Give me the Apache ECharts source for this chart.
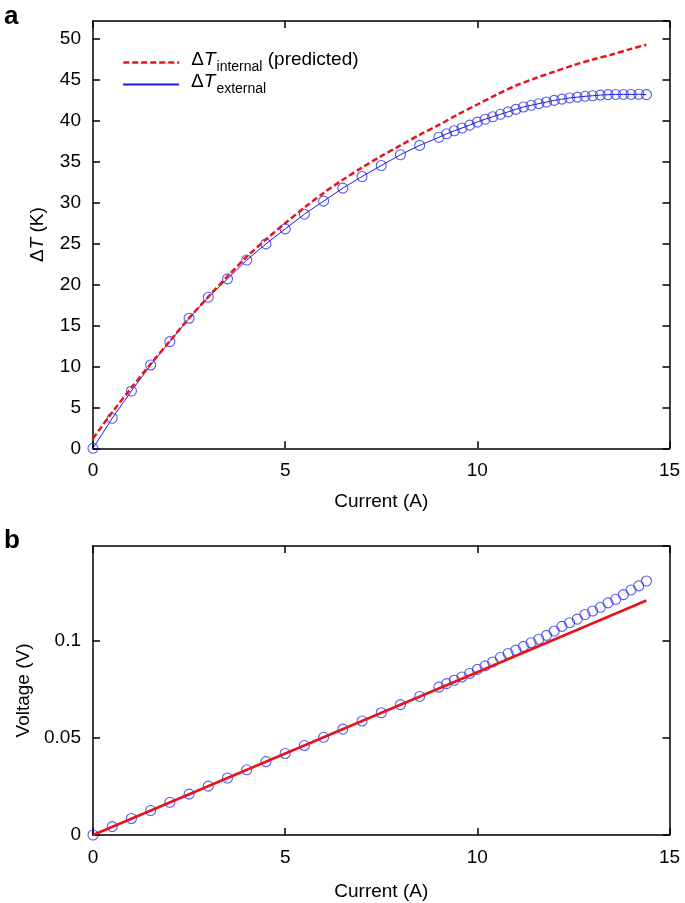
<!DOCTYPE html>
<html>
<head>
<meta charset="utf-8">
<script src="https://cdn.jsdelivr.net/npm/echarts@6/dist/echarts.min.js"></script>
<style>
html,body{margin:0;padding:0;background:#fff;}
#chart{width:685px;height:903px;}
</style>
</head>
<body>
<div id="chart"></div>
<script>
// ---- Data ----
const xTicks = [0, 5, 10, 15];
// Measured currents (A)
const current = [0,0.5,1,1.5,2,2.5,3,3.5,4,4.5,5,5.5,6,6.5,7,7.5,8,8.5,
  9,9.2,9.4,9.6,9.8,10,10.2,10.4,10.6,10.8,11,11.2,11.4,11.6,11.8,12,12.2,12.4,12.6,12.8,13,13.2,13.4,13.6,13.8,14,14.2,14.4];
// ΔT_external (K)
const dTexternal = [0,3.67,7.0,10.18,13.03,15.89,18.46,20.7,23.0,24.97,26.8,28.6,30.2,31.78,33.2,34.55,35.86,37.0,
  38.0,38.42,38.79,39.12,39.48,39.85,40.2,40.5,40.8,41.1,41.4,41.7,41.9,42.1,42.3,42.5,42.65,42.8,42.9,43.0,43.07,43.15,43.2,43.23,43.23,43.23,43.25,43.2];
// ΔT_internal predicted (K)
const currentPred = [0,0.5,1,1.5,2,2.5,3,3.5,4,4.5,5,5.5,6,6.5,7,7.5,8,8.5,9,9.5,10,10.5,11,11.5,12,12.5,13,13.5,14,14.4];
const dTinternal = [1.2,4.4,7.4,10.3,13.1,15.9,18.5,21.0,23.4,25.5,27.5,29.4,31.2,32.8,34.3,35.7,37.0,38.3,39.5,40.8,42.0,43.2,44.3,45.2,46.0,46.8,47.5,48.1,48.8,49.3];
// Voltage (V)
const voltage = [0,0.0043,0.0085,0.0126,0.0168,0.0210,0.0251,0.0293,0.0335,0.0377,0.0419,0.0460,0.0502,0.0544,0.0586,0.0628,0.0670,0.0712,
  0.0760,0.0778,0.0795,0.0812,0.0830,0.0851,0.0869,0.0889,0.0912,0.0933,0.0950,0.0969,0.0988,0.1006,0.1026,0.1048,0.1072,0.1091,0.1109,0.1133,0.1151,0.1170,0.1193,0.1211,0.1235,0.1259,0.1280,0.1305];
// Linear voltage line
const fitCurrent = [0, 14.4];
const fitVoltage = [0, 0.1205];

const pairs = (xs, ys) => xs.map((x, i) => [x, ys[i]]);

const FONT = '"Liberation Sans", Arial, Helvetica, sans-serif';
const RED = '#e8141c';
const BLUE = '#1c1ce0';
const CIRC = '#3030e6';

const axisLine = {show: true, onZero: false, lineStyle: {color: '#000', width: 1.5}};
const tickIn = {show: true, inside: true, length: 7, lineStyle: {color: '#000', width: 1.5}};
const lbl = {color: '#000', fontSize: 19, fontFamily: FONT};

function xAxes(gridIndex, nameGap) {
  return [
    {type: 'value', gridIndex, min: 0, max: 15, interval: 5, position: 'bottom',
     axisLine, axisTick: tickIn, splitLine: {show: false},
     axisLabel: Object.assign({margin: 13}, lbl),
     name: 'Current (A)', nameLocation: 'middle', nameGap,
     nameTextStyle: {color: '#000', fontSize: 19, fontFamily: FONT}},
    {type: 'value', gridIndex, min: 0, max: 15, interval: 5, position: 'top',
     axisLine, axisTick: tickIn, splitLine: {show: false}, axisLabel: {show: false}}
  ];
}
function yAxes(gridIndex, max, interval, name, nameGap, fmt) {
  return [
    {type: 'value', gridIndex, min: 0, max, interval, position: 'left',
     axisLine, axisTick: tickIn, splitLine: {show: false},
     axisLabel: Object.assign({margin: 12, showMaxLabel: false, formatter: fmt}, lbl),
     name, nameLocation: 'middle', nameGap, nameRotate: 90,
     nameTextStyle: {color: '#000', fontSize: 19, fontFamily: FONT,
       rich: {n: {fontSize: 19, fontFamily: FONT, color: '#000'},
              i: {fontSize: 19, fontFamily: FONT, fontStyle: 'italic', color: '#000'}}}},
    {type: 'value', gridIndex, min: 0, max, interval, position: 'right',
     axisLine, axisTick: tickIn, splitLine: {show: false}, axisLabel: {show: false}}
  ];
}

const legendRich = {
  d: {fontSize: 19, fontFamily: FONT, color: '#000', padding: [0, 0, 6, 7]},
  t: {fontSize: 19, fontFamily: FONT, color: '#000', fontStyle: 'italic', padding: [0, 0, 6, 0]},
  s: {fontSize: 14, fontFamily: FONT, color: '#000', padding: [10, 0, 0, 1]},
  p: {fontSize: 19, fontFamily: FONT, color: '#000', padding: [0, 0, 6, 0]}
};
function legendFmt(name) {
  if (name === 'internal') return '{d|Δ}{t|T}{s|internal}{p| (predicted)}';
  return '{d|Δ}{t|T}{s|external}';
}

const legendCommon = {left: 122, padding: 0, itemWidth: 56, itemHeight: 14,
  formatter: legendFmt, textStyle: {rich: legendRich}, selectedMode: false,
  itemStyle: {opacity: 0}};

const option = {
  animation: false,
  backgroundColor: '#fff',
  grid: [
    {left: 93, top: 21, width: 576.5, height: 427.3},
    {left: 93, top: 546, width: 576.5, height: 289}
  ],
  xAxis: [...xAxes(0, 44), ...xAxes(1, 47)],
  yAxis: [
    ...yAxes(0, 52.2, 5, '{n|Δ}{i|T}{n| (K)}', 46, v => String(v)),
    ...yAxes(1, 0.1485, 0.05, 'Voltage (V)', 60, v => (v === 0 ? '0' : String(+v.toFixed(2))))
  ],
  legend: [
    Object.assign({data: ['internal'], top: 50, lineStyle: {width: 2.5}}, legendCommon),
    Object.assign({data: ['external'], top: 72, lineStyle: {width: 2.2}}, legendCommon)
  ],
  graphic: [
    {type: 'text', left: 4, top: 4, style: {text: 'a', font: 'bold 26px ' + FONT, fill: '#000'}},
    {type: 'text', left: 4, top: 528, style: {text: 'b', font: 'bold 26px ' + FONT, fill: '#000'}}
  ],
  series: [
    {name: 'external', type: 'line', xAxisIndex: 0, yAxisIndex: 0, data: pairs(current, dTexternal),
     symbol: 'none', lineStyle: {color: BLUE, width: 1}, itemStyle: {color: BLUE}, z: 2},
    {name: 'extPts', type: 'scatter', xAxisIndex: 0, yAxisIndex: 0, data: pairs(current, dTexternal),
     symbol: 'circle', symbolSize: 10, itemStyle: {color: 'rgba(0,0,0,0)', borderColor: CIRC, borderWidth: 1.1}, z: 3},
    {name: 'internal', type: 'line', xAxisIndex: 0, yAxisIndex: 0, data: pairs(currentPred, dTinternal),
     symbol: 'none', smooth: 0.3, lineStyle: {color: RED, width: 2.5, type: [6, 3]}, itemStyle: {color: RED}, z: 4},
    {name: 'vPts', type: 'scatter', xAxisIndex: 2, yAxisIndex: 2, data: pairs(current, voltage),
     symbol: 'circle', symbolSize: 10, itemStyle: {color: 'rgba(0,0,0,0)', borderColor: CIRC, borderWidth: 1.1}, z: 3},
    {name: 'vFit', type: 'line', xAxisIndex: 2, yAxisIndex: 2, data: pairs(fitCurrent, fitVoltage),
     symbol: 'none', lineStyle: {color: RED, width: 2.5}, z: 4}
  ]
};

const chart = echarts.init(document.getElementById('chart'), null, {renderer: 'canvas'});
chart.setOption(option);
</script>
</body>
</html>
